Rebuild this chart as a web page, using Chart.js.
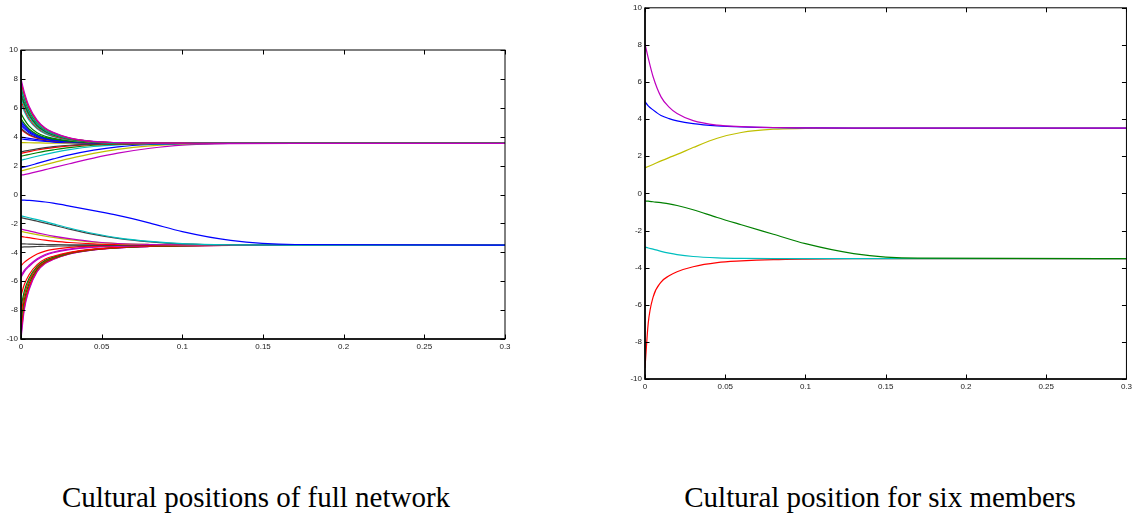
<!DOCTYPE html>
<html>
<head>
<meta charset="utf-8">
<script src="https://cdn.jsdelivr.net/npm/chart.js@4.4.1/dist/chart.umd.min.js"></script>
<style>
  body { margin: 0; width: 1135px; height: 516px; background: #fff; position: relative; overflow: hidden; }
  .box { position: absolute; }
  .caption { position: absolute; width: 500px; text-align: center; font-family: "Liberation Serif", serif; font-size: 29px; line-height: 29px; color: #000; top: 483px; }
</style>
</head>
<body>
<div class="box" style="left:0; top:40px; width:515px; height:315px"><canvas id="fullChart"></canvas></div>
<div class="box" style="left:620px; top:0; width:515px; height:395px"><canvas id="sixChart"></canvas></div>
<div class="caption" style="left:6px">Cultural positions of full network</div>
<div class="caption" style="left:630px">Cultural position for six members</div>
<script>
// sample times (x axis)
const times = [0, 0.002, 0.005, 0.01, 0.015, 0.02, 0.03, 0.045, 0.06, 0.08, 0.1, 0.13, 0.17, 0.3];
const xTicks = [0, 0.05, 0.1, 0.15, 0.2, 0.25, 0.3];
const yTicks = [-10, -8, -6, -4, -2, 0, 2, 4, 6, 8, 10];

// left plot: full network, upper group coming down
const upperHigh = [
  [8.0, 7.1, 6.1, 5.15, 4.6, 4.3, 3.92, 3.67, 3.59, 3.56, 3.55, 3.54, 3.54, 3.54],
  [7.8, 6.95, 6.0, 5.08, 4.57, 4.27, 3.9, 3.66, 3.59, 3.56, 3.55, 3.54, 3.54, 3.54],
  [7.6, 6.8, 5.9, 5.0, 4.52, 4.24, 3.89, 3.66, 3.58, 3.56, 3.55, 3.54, 3.54, 3.54],
  [7.45, 6.7, 5.82, 4.95, 4.49, 4.22, 3.88, 3.65, 3.58, 3.56, 3.55, 3.54, 3.54, 3.54],
  [7.3, 6.58, 5.74, 4.9, 4.45, 4.19, 3.86, 3.65, 3.58, 3.55, 3.54, 3.54, 3.54, 3.54],
  [7.1, 6.42, 5.62, 4.83, 4.4, 4.15, 3.84, 3.64, 3.58, 3.55, 3.54, 3.54, 3.54, 3.54],
  [6.9, 6.26, 5.5, 4.76, 4.36, 4.12, 3.83, 3.64, 3.57, 3.55, 3.54, 3.54, 3.54, 3.54],
  [6.7, 6.1, 5.38, 4.68, 4.3, 4.08, 3.81, 3.63, 3.57, 3.55, 3.54, 3.54, 3.54, 3.54],
  [6.5, 5.93, 5.26, 4.61, 4.25, 4.04, 3.79, 3.62, 3.57, 3.55, 3.54, 3.54, 3.54, 3.54],
  [6.3, 5.77, 5.14, 4.54, 4.2, 4.0, 3.78, 3.62, 3.56, 3.55, 3.54, 3.54, 3.54, 3.54],
  [5.6, 5.2, 4.73, 4.28, 4.03, 3.88, 3.72, 3.6, 3.56, 3.55, 3.54, 3.54, 3.54, 3.54],
  [5.25, 4.92, 4.53, 4.15, 3.95, 3.83, 3.69, 3.59, 3.56, 3.55, 3.54, 3.54, 3.54, 3.54],
  [5.1, 4.8, 4.44, 4.1, 3.91, 3.8, 3.67, 3.59, 3.56, 3.55, 3.54, 3.54, 3.54, 3.54],
  [4.95, 4.68, 4.36, 4.05, 3.88, 3.78, 3.66, 3.58, 3.56, 3.55, 3.54, 3.54, 3.54, 3.54],
  [4.8, 4.56, 4.28, 4.0, 3.85, 3.76, 3.65, 3.58, 3.56, 3.55, 3.54, 3.54, 3.54, 3.54],
  [4.6, 4.4, 4.17, 3.94, 3.81, 3.73, 3.64, 3.57, 3.55, 3.54, 3.54, 3.54, 3.54, 3.54],
  [4.5, 4.32, 4.11, 3.9, 3.79, 3.72, 3.63, 3.57, 3.55, 3.54, 3.54, 3.54, 3.54, 3.54],
  [3.98, 3.94, 3.88, 3.8, 3.73, 3.68, 3.62, 3.57, 3.55, 3.54, 3.54, 3.54, 3.54, 3.54],
  [3.85, 3.82, 3.78, 3.72, 3.67, 3.63, 3.59, 3.56, 3.55, 3.54, 3.54, 3.54, 3.54, 3.54],
  [3.6, 3.59, 3.58, 3.57, 3.56, 3.56, 3.55, 3.55, 3.54, 3.54, 3.54, 3.54, 3.54, 3.54]
];
const upperHighColors = ["m", "r", "c", "g", "c", "k", "g", "c", "r", "c", "g", "g", "b", "b", "b", "k", "r", "b", "b", "y"];

// upper group coming up
const upperLow = [
  [2.95, 3.0, 3.06, 3.16, 3.24, 3.31, 3.41, 3.49, 3.52, 3.54, 3.54, 3.54, 3.54, 3.54],
  [2.85, 2.9, 2.97, 3.08, 3.17, 3.25, 3.37, 3.47, 3.51, 3.53, 3.54, 3.54, 3.54, 3.54],
  [2.65, 2.7, 2.77, 2.89, 3.0, 3.09, 3.25, 3.41, 3.48, 3.52, 3.54, 3.54, 3.54, 3.54],
  [2.37, 2.43, 2.51, 2.65, 2.78, 2.9, 3.1, 3.32, 3.44, 3.51, 3.53, 3.54, 3.54, 3.54],
  [1.84, 1.9, 1.99, 2.15, 2.31, 2.46, 2.74, 3.07, 3.3, 3.46, 3.52, 3.54, 3.54, 3.54],
  [1.64, 1.69, 1.77, 1.92, 2.07, 2.21, 2.48, 2.84, 3.12, 3.36, 3.48, 3.53, 3.54, 3.54],
  [1.34, 1.38, 1.45, 1.58, 1.72, 1.86, 2.13, 2.52, 2.86, 3.2, 3.42, 3.52, 3.54, 3.54]
];
const upperLowColors = ["k", "r", "g", "c", "b", "y", "m"];

// lower group coming down
const lowerHigh = [
  [-0.38, -0.39, -0.41, -0.46, -0.52, -0.6, -0.8, -1.12, -1.45, -1.98, -2.57, -3.18, -3.46, -3.5],
  [-1.48, -1.53, -1.61, -1.74, -1.88, -2.03, -2.32, -2.7, -3.0, -3.25, -3.4, -3.48, -3.5, -3.5],
  [-1.6, -1.65, -1.72, -1.85, -1.98, -2.12, -2.4, -2.76, -3.04, -3.28, -3.42, -3.49, -3.5, -3.5],
  [-2.4, -2.45, -2.52, -2.65, -2.77, -2.88, -3.06, -3.27, -3.39, -3.46, -3.49, -3.5, -3.5, -3.5],
  [-2.56, -2.6, -2.67, -2.78, -2.88, -2.97, -3.12, -3.3, -3.4, -3.46, -3.49, -3.5, -3.5, -3.5],
  [-2.9, -2.94, -2.99, -3.08, -3.16, -3.22, -3.32, -3.42, -3.46, -3.49, -3.5, -3.5, -3.5, -3.5],
  [-3.41, -3.42, -3.43, -3.45, -3.46, -3.47, -3.48, -3.49, -3.5, -3.5, -3.5, -3.5, -3.5, -3.5]
];
const lowerHighColors = ["b", "c", "k", "m", "y", "r", "k"];

// lower group coming up
const lowerLow = [
  [-3.64, -3.63, -3.62, -3.6, -3.58, -3.57, -3.55, -3.53, -3.52, -3.51, -3.5, -3.5, -3.5, -3.5],
  [-4.93, -4.7, -4.45, -4.12, -3.92, -3.8, -3.66, -3.57, -3.53, -3.51, -3.5, -3.5, -3.5, -3.5],
  [-5.62, -5.25, -4.9, -4.45, -4.15, -3.98, -3.78, -3.63, -3.56, -3.52, -3.51, -3.5, -3.5, -3.5],
  [-5.75, -5.35, -4.98, -4.52, -4.22, -4.03, -3.81, -3.65, -3.57, -3.53, -3.51, -3.5, -3.5, -3.5],
  [-7.0, -6.25, -5.55, -4.85, -4.47, -4.27, -4.0, -3.78, -3.66, -3.57, -3.53, -3.51, -3.5, -3.5],
  [-7.8, -6.7, -5.8, -4.98, -4.55, -4.33, -4.03, -3.79, -3.67, -3.58, -3.54, -3.51, -3.5, -3.5],
  [-8.3, -7.0, -5.97, -5.06, -4.61, -4.37, -4.05, -3.8, -3.67, -3.58, -3.54, -3.51, -3.5, -3.5],
  [-8.8, -7.3, -6.15, -5.14, -4.66, -4.41, -4.07, -3.81, -3.68, -3.59, -3.54, -3.52, -3.5, -3.5],
  [-9.3, -7.6, -6.35, -5.22, -4.71, -4.45, -4.09, -3.82, -3.68, -3.59, -3.55, -3.52, -3.5, -3.5],
  [-9.7, -7.85, -6.5, -5.3, -4.75, -4.48, -4.11, -3.83, -3.69, -3.6, -3.55, -3.52, -3.5, -3.5],
  [-10, -8.0, -6.6, -5.35, -4.78, -4.5, -4.12, -3.83, -3.69, -3.6, -3.55, -3.52, -3.5, -3.5]
];
const lowerLowColors = ["k", "r", "m", "m", "r", "g", "r", "g", "r", "m", "m"];

// right plot: six members
const sixMagenta = [8.05, 7.3, 6.3, 5.2, 4.65, 4.3, 3.92, 3.68, 3.6, 3.55, 3.53, 3.52, 3.52, 3.52];
const sixBlue = [4.94, 4.72, 4.5, 4.2, 4.03, 3.91, 3.76, 3.64, 3.58, 3.54, 3.53, 3.52, 3.52, 3.52];
const sixYellow = [1.38, 1.45, 1.56, 1.75, 1.93, 2.1, 2.47, 2.97, 3.28, 3.46, 3.5, 3.52, 3.52, 3.52];
const sixGreen = [-0.41, -0.42, -0.45, -0.5, -0.56, -0.65, -0.88, -1.3, -1.69, -2.2, -2.71, -3.24, -3.49, -3.51];
const sixCyan = [-2.89, -2.94, -3.0, -3.12, -3.22, -3.3, -3.4, -3.47, -3.5, -3.51, -3.51, -3.51, -3.51, -3.51];
const sixRed = [-9.4, -7.0, -5.6, -4.78, -4.44, -4.22, -3.95, -3.73, -3.64, -3.57, -3.54, -3.52, -3.51, -3.51];

// matlab-ish colour letters
const palette = { b: "#0000ff", g: "#008000", r: "#ff0000", c: "#00bfbf", m: "#bf00bf", y: "#bfbf00", k: "#404040" };

const toPoints = (vals) => times.map((t, i) => ({ x: t, y: vals[i] }));

const makeSets = (list, colors) =>
  list.map((vals, i) => ({
    data: toPoints(vals),
    borderColor: palette[colors[i]],
    borderWidth: 1.2,
    pointRadius: 0,
    cubicInterpolationMode: "monotone",
    fill: false,
  }));

// box with inward ticks on all four sides
const frame = {
  id: "frame",
  afterDatasetsDraw(chart) {
    const { ctx, chartArea: a, scales } = chart;
    const len = 4.5;
    ctx.save();
    ctx.strokeStyle = "#000";
    ctx.lineWidth = 1;
    ctx.beginPath();
    scales.x.ticks.forEach((t) => {
      const px = Math.round(scales.x.getPixelForValue(t.value)) + 0.5;
      ctx.moveTo(px, a.bottom); ctx.lineTo(px, a.bottom - len);
      ctx.moveTo(px, a.top); ctx.lineTo(px, a.top + len);
    });
    scales.y.ticks.forEach((t) => {
      const py = Math.round(scales.y.getPixelForValue(t.value)) + 0.5;
      ctx.moveTo(a.left, py); ctx.lineTo(a.left + len, py);
      ctx.moveTo(a.right, py); ctx.lineTo(a.right - len, py);
    });
    ctx.stroke();
    ctx.strokeRect(a.left, a.top, a.right - a.left, a.bottom - a.top);
    ctx.lineWidth = 1.6;
    ctx.beginPath();
    ctx.moveTo(a.left, a.top); ctx.lineTo(a.left, a.bottom); ctx.lineTo(a.right, a.bottom);
    ctx.stroke();
    ctx.restore();
  },
};

Chart.defaults.font.family = "'Liberation Sans', Arial, sans-serif";
Chart.defaults.font.size = 8;
Chart.defaults.color = "#222";

const makeOptions = (yWidth, pad) => ({
  responsive: true,
  maintainAspectRatio: false,
  animation: false,
  layout: { padding: pad },
  plugins: { legend: { display: false }, tooltip: { enabled: false } },
  scales: {
    x: {
      type: "linear",
      min: xTicks[0],
      max: xTicks[xTicks.length - 1],
      grid: { display: false, drawTicks: false },
      border: { display: false },
      afterBuildTicks: (scale) => { scale.ticks = xTicks.map((v) => ({ value: v })); },
      ticks: { padding: 3, maxRotation: 0, autoSkip: false, callback: (v) => String(Number(v.toFixed(2))) },
      afterFit: (scale) => { scale.height = 16; },
    },
    y: {
      type: "linear",
      min: yTicks[0],
      max: yTicks[yTicks.length - 1],
      grid: { display: false, drawTicks: false },
      border: { display: false },
      afterBuildTicks: (scale) => { scale.ticks = yTicks.map((v) => ({ value: v })); },
      ticks: { padding: 3, autoSkip: false },
      afterFit: (scale) => { scale.width = yWidth; },
    },
  },
});

new Chart(document.getElementById("fullChart"), {
  type: "line",
  data: {
    datasets: [
      ...makeSets(upperHigh, upperHighColors),
      ...makeSets(upperLow, upperLowColors),
      ...makeSets(lowerHigh, lowerHighColors),
      ...makeSets(lowerLow, lowerLowColors),
    ],
  },
  options: makeOptions(21, { top: 10, right: 10, left: 0, bottom: 0 }),
  plugins: [frame],
});

new Chart(document.getElementById("sixChart"), {
  type: "line",
  data: {
    datasets: makeSets(
      [sixMagenta, sixBlue, sixYellow, sixGreen, sixCyan, sixRed],
      ["m", "b", "y", "g", "c", "r"]
    ),
  },
  options: makeOptions(25, { top: 6, right: 6, left: 0, bottom: 0 }),
  plugins: [frame],
});
</script>
</body>
</html>
